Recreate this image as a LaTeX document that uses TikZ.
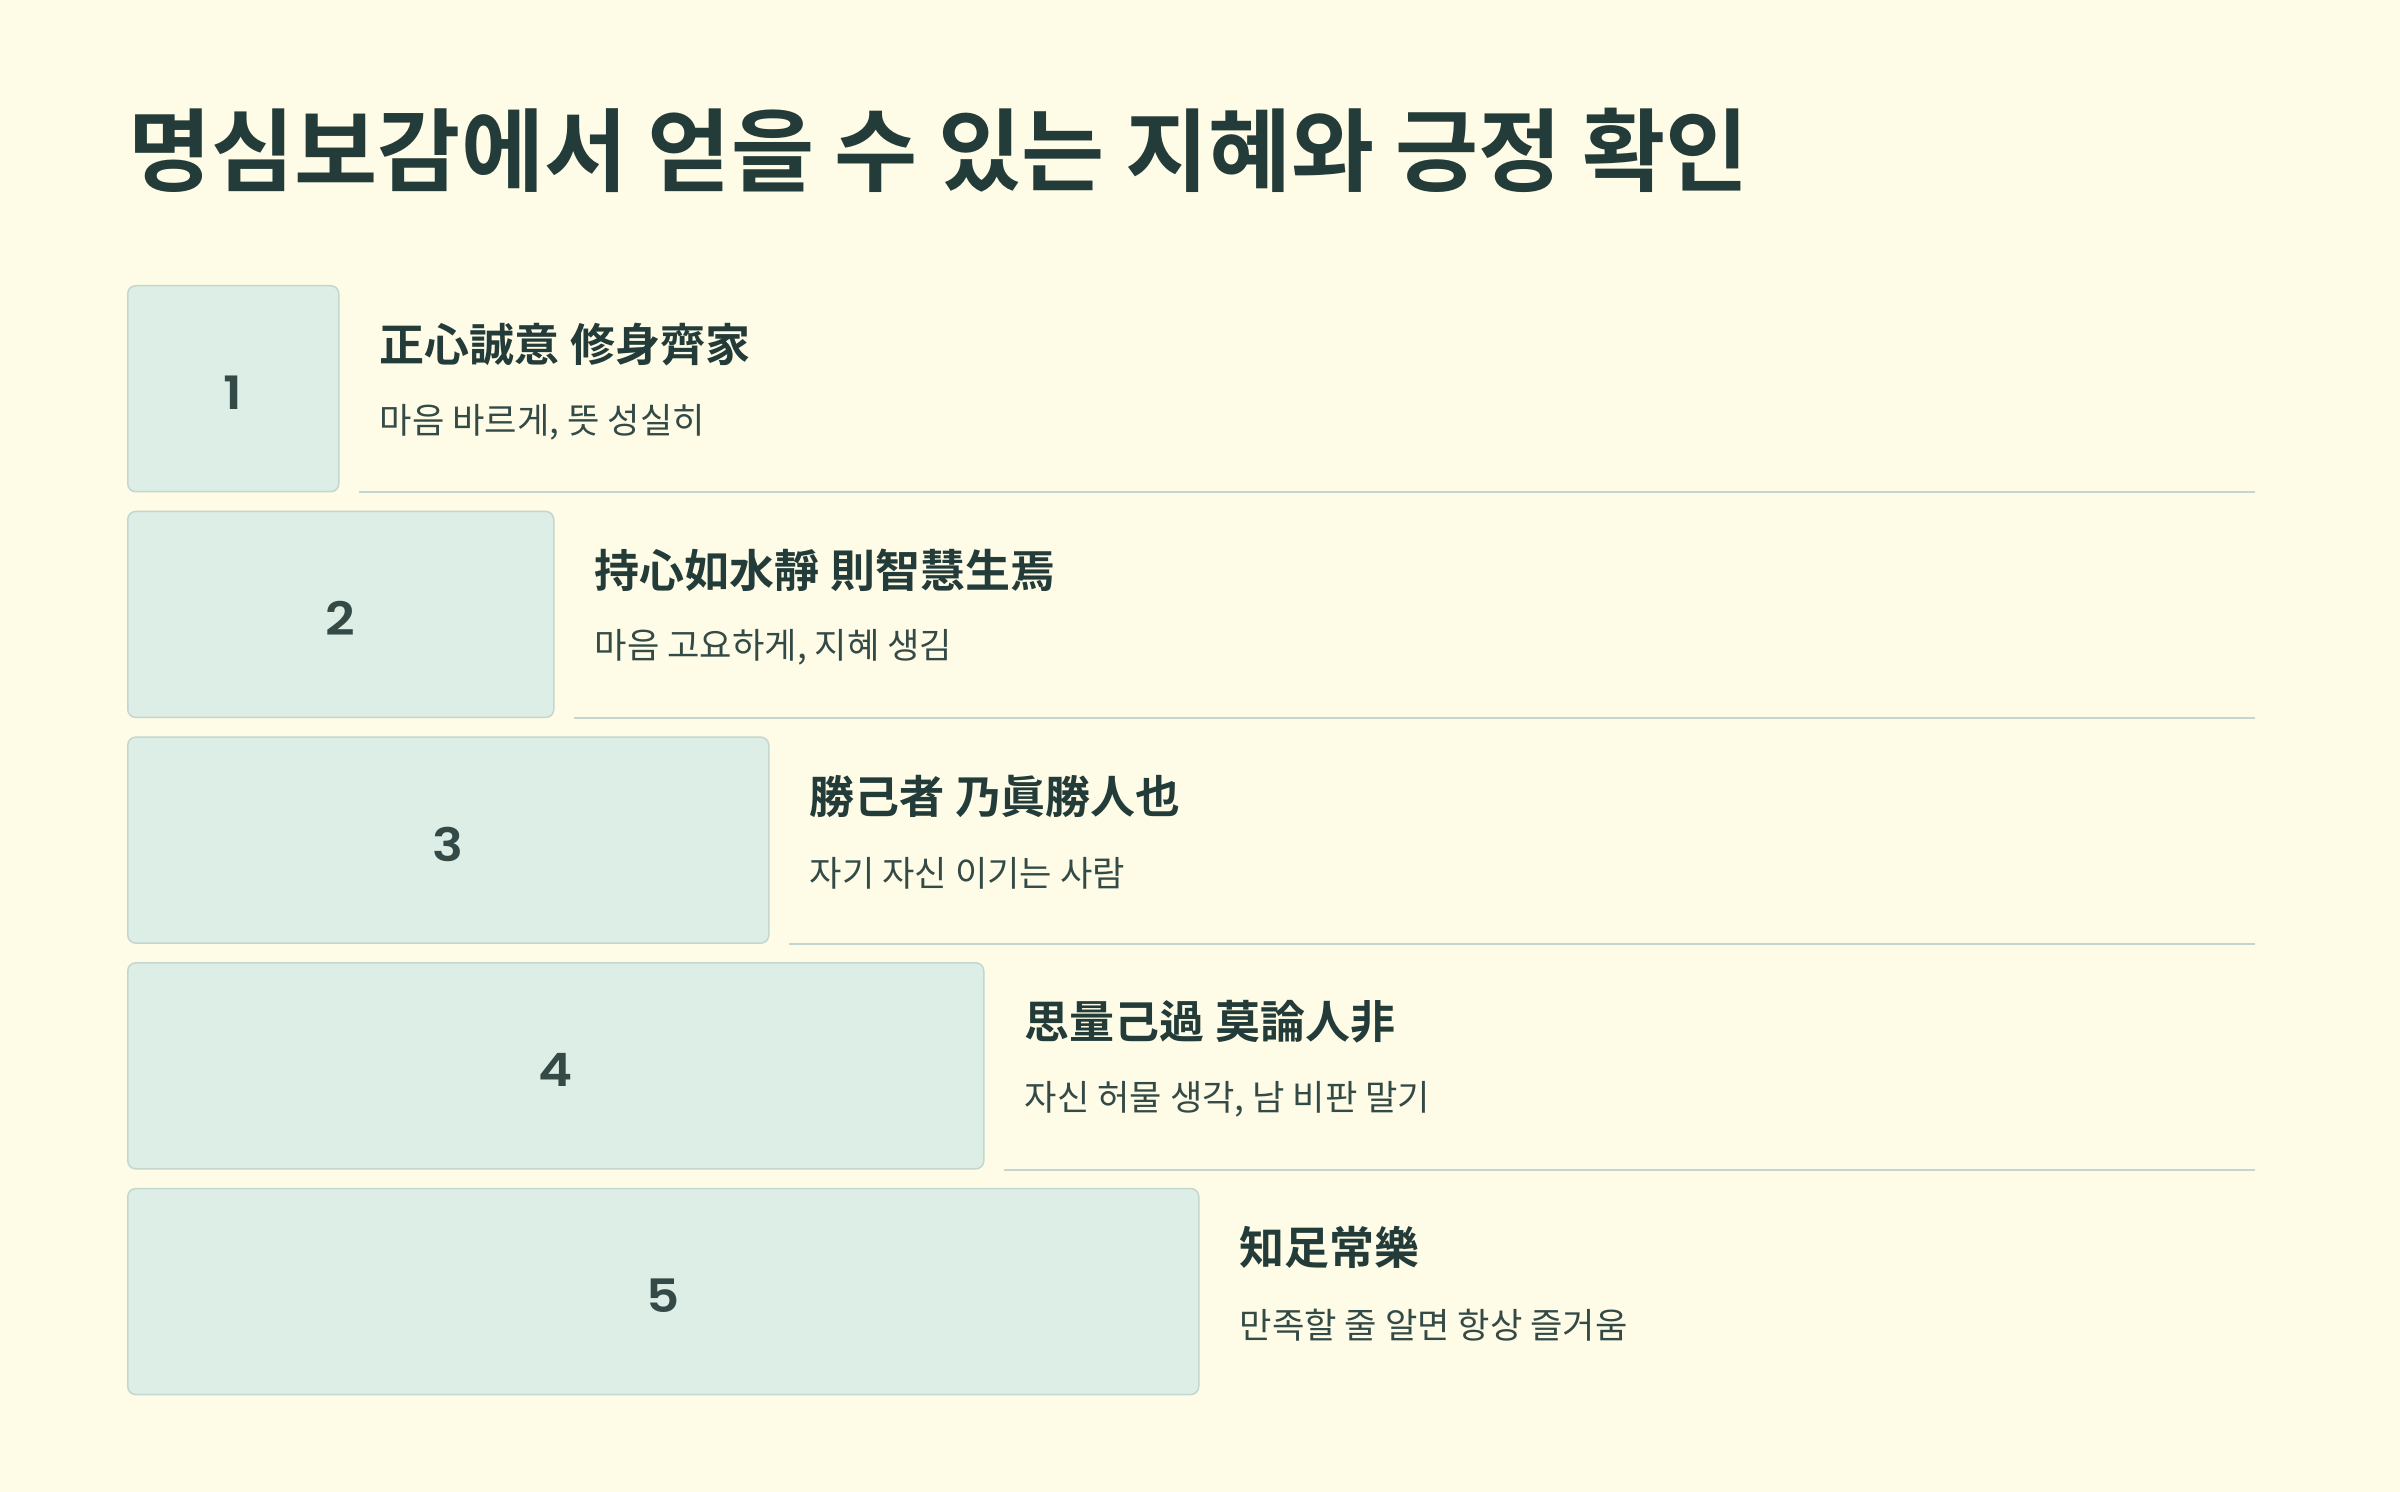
\documentclass[tikz,border=0pt]{standalone}
\usepackage{fontspec}
\usepackage{tikz}
\usetikzlibrary{%
  positioning,% wg. " of "
  calc%
}
\newfontfamily\krfont{Noto Sans CJK KR}[BoldFont={Noto Sans CJK KR Bold}]
\newfontfamily\numfont{Poppins SemiBold}[FakeStretch=1.12]
\definecolor{paper}{HTML}{FEFCE6}
\definecolor{boxfill}{HTML}{DDEEE6}
\definecolor{boxline}{HTML}{C3D6CF}
\definecolor{inkdark}{HTML}{233B39}
\definecolor{inksoft}{HTML}{344A47}

\begin{document}
\begin{tikzpicture}[x=0.5pt,y=-0.5pt,
    numbox/.style={draw=boxline, fill=boxfill, line width=0.75pt, rounded corners=4pt,
      inner sep=0pt, minimum height=103pt},
    numtext/.style={inner sep=0pt, text=inksoft, font=\numfont\fontsize{23}{24}\selectfont},
    headtext/.style={anchor=west, inner sep=0pt, text=inkdark, font=\krfont\bfseries\fontsize{22.5}{24}\selectfont},
    subtext/.style={anchor=west, inner sep=0pt, text=inksoft, font=\krfont\fontsize{17.6}{19}\selectfont},
    sepline/.style={draw=boxline, line width=1pt}]
    \fill[paper] (0,0) rectangle (2400,1492);
    \useasboundingbox (0,0) rectangle (2400,1492);

    %title
    \node[anchor=west, inner sep=0pt, text=inkdark, font=\krfont\bfseries\fontsize{45.2}{48}\selectfont] (title) at (128,150) {명심보감에서 얻을 수 있는 지혜와 긍정 확인};

    %steps
    \foreach \i/\head/\sub in {%
      1/{正心誠意 修身齊家}/{마음 바르게, 뜻 성실히},%
      2/{持心如水靜 則智慧生焉}/{마음 고요하게, 지혜 생김},%
      3/{勝己者 乃眞勝人也}/{자기 자신 이기는 사람},%
      4/{思量己過 莫論人非}/{자신 허물 생각, 남 비판 말기},%
      5/{知足常樂}/{만족할 줄 알면 항상 즐거움}}{
      \pgfmathsetmacro\w{105.5+107.5*(\i-1)}
      \pgfmathsetmacro\top{285+225.7*(\i-1)}
      \node[numbox, minimum width=\w pt, anchor=north west] (box\i) at (127,\top) {};
      \node[numtext] (num\i) at ([yshift=-2pt]box\i.center) {\i};
      \node[headtext] (head\i) at ([xshift=20pt, yshift=-30pt]box\i.north east) {\head};
      \node[subtext] (sub\i) at ([xshift=20pt, yshift=-68.5pt]box\i.north east) {\sub};
    }

    %separators
    \foreach \i in {1,...,4}{
      \coordinate (end\i) at (box\i.south -| 2255,0);
      \draw[sepline] ([xshift=9.5pt]box\i.south east) -- (end\i);
    }
\end{tikzpicture}
\end{document}
